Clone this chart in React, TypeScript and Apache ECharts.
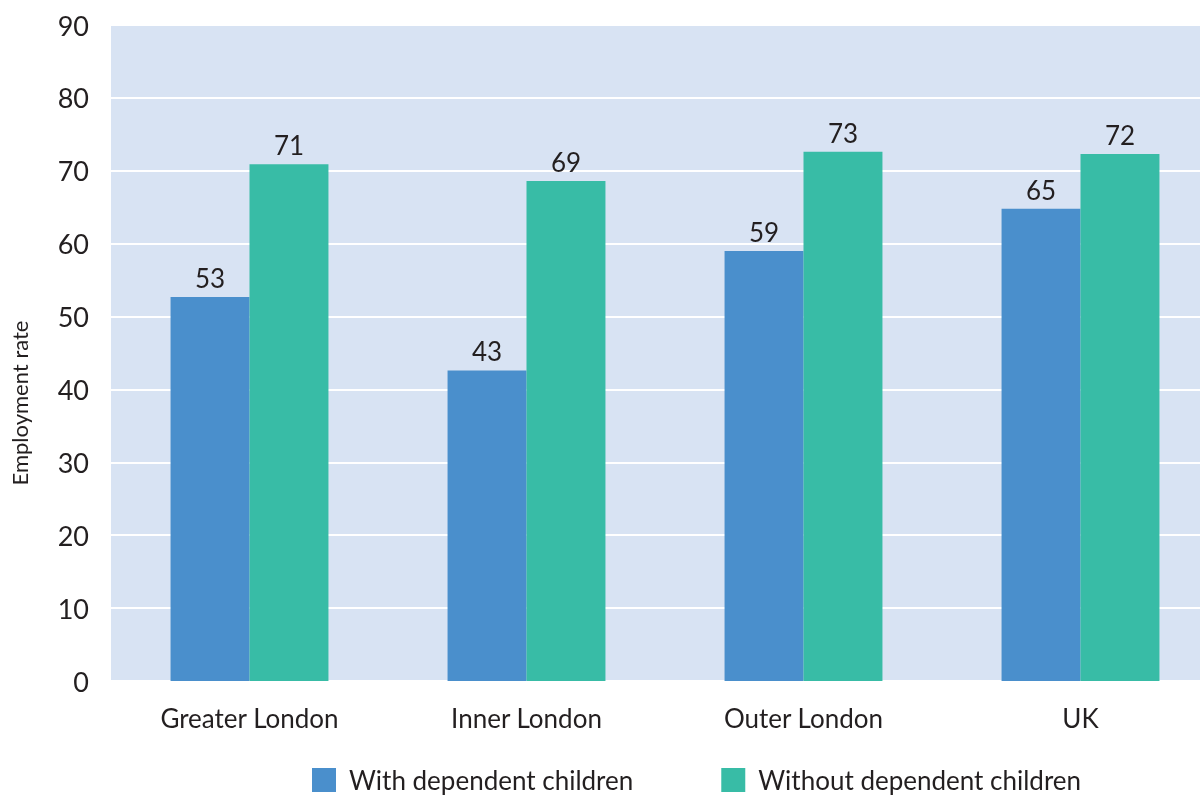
import React, { useEffect, useRef } from "react";
import * as echarts from "echarts";

const categories = ["Greater London", "Inner London", "Outer London", "UK"];
const withChildren = [52.7, 42.6, 59.0, 64.8];
const withoutChildren = [70.9, 68.6, 72.6, 72.3];
const seriesNames = ["With dependent children", "Without dependent children"];
const yTitle = "Employment rate";

const FONT = "Lato, sans-serif";
const TXT = "#231f20";

export default function App() {
  const ref = useRef<HTMLDivElement>(null);
  useEffect(() => {
    if (!ref.current) return;
    const chart = echarts.init(ref.current, undefined, { renderer: "svg" });
    const label = {
      show: true,
      position: "top" as const,
      distance: 6,
      color: TXT,
      fontSize: 26,
      fontFamily: FONT,
      formatter: (p: any) => String(Math.round(p.value)),
    };
    chart.setOption({
      animation: false,
      textStyle: { fontFamily: FONT },
      grid: {
        left: 111,
        width: 1108,
        top: 25,
        bottom: 117,
        backgroundColor: "#d8e3f3",
        show: true,
        borderWidth: 0,
        outerBoundsMode: "none",
      },
      legend: {
        bottom: 0,
        left: 307,
        itemWidth: 24,
        itemHeight: 24,
        itemGap: 88,
        icon: "rect",
        textStyle: { fontSize: 26, color: TXT, fontFamily: FONT, padding: [0, 0, 0, 8] },
        data: seriesNames,
      },
      graphic: [
        {
          type: "text",
          x: 19,
          y: 403,
          rotation: Math.PI / 2,
          style: {
            text: yTitle,
            fontSize: 22,
            fontFamily: FONT,
            fill: TXT,
            align: "center",
            verticalAlign: "middle",
          },
        },
      ],
      xAxis: {
        type: "category",
        data: categories,
        axisLine: { show: false },
        axisTick: { show: false },
        axisLabel: { color: TXT, fontSize: 26, fontFamily: FONT, margin: 24 },
      },
      yAxis: {
        type: "value",
        min: 0,
        max: 90,
        interval: 10,
        axisLine: { show: false },
        axisTick: { show: false },
        axisLabel: { color: TXT, fontSize: 27, fontFamily: FONT, margin: 22 },
        splitLine: { lineStyle: { color: "#ffffff", width: 2 } },
      },
      series: [
        {
          name: seriesNames[0],
          type: "bar",
          data: withChildren,
          barWidth: "28.5%",
          barGap: "0%",
          itemStyle: { color: "#4a8fcc" },
          label,
        },
        {
          name: seriesNames[1],
          type: "bar",
          data: withoutChildren,
          barWidth: "28.5%",
          barGap: "0%",
          itemStyle: { color: "#38bca6" },
          label,
        },
      ],
    });
    return () => chart.dispose();
  }, []);
  return <div ref={ref} style={{ width: 1200, height: 798, position: "fixed", left: 0, top: 0 }} />;
}
